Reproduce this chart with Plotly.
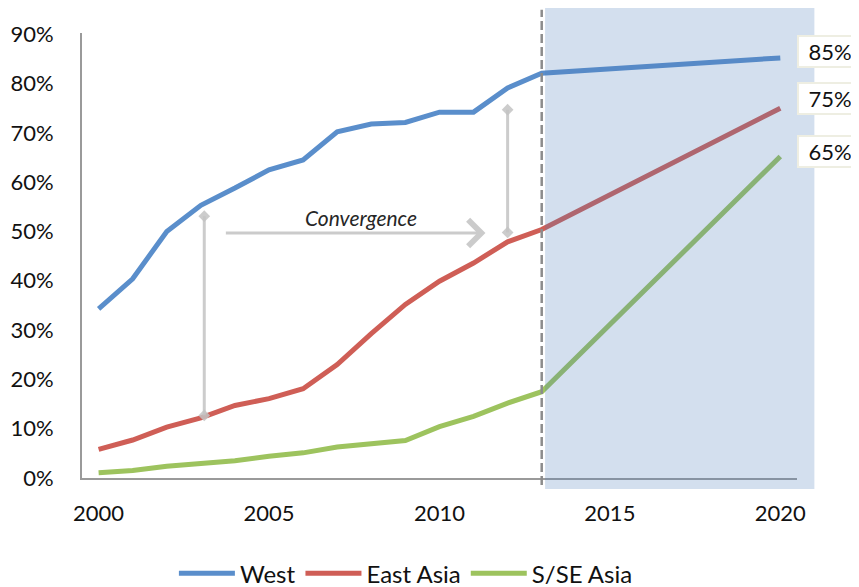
import plotly.graph_objects as go

years = [2000, 2001, 2002, 2003, 2004, 2005, 2006, 2007, 2008, 2009, 2010, 2011, 2012, 2013, 2020]
west = [34.3, 40.4, 50.0, 55.3, 58.8, 62.5, 64.5, 70.2, 71.8, 72.1, 74.2, 74.2, 79.1, 82.1, 85.2]
east_asia = [5.8, 7.7, 10.3, 12.2, 14.7, 16.1, 18.1, 23.0, 29.3, 35.2, 39.9, 43.6, 47.9, 50.4, 75.0]
se_asia = [1.05, 1.5, 2.4, 2.9, 3.5, 4.4, 5.1, 6.3, 6.9, 7.6, 10.4, 12.5, 15.2, 17.5, 65.2]
series_names = ["West", "East Asia", "S/SE Asia"]
end_labels = ["85%", "75%", "65%"]
end_label_y = [86.4, 77.0, 66.3]
x_ticks = [2000, 2005, 2010, 2015, 2020]
y_ticks = [0, 10, 20, 30, 40, 50, 60, 70, 80, 90]
y_tick_text = ["0%", "10%", "20%", "30%", "40%", "50%", "60%", "70%", "80%", "90%"]
forecast_start = 2013
forecast_end = 2021

colors = ["#5A8ECB", "#CF5E56", "#9DC35E"]
FONT = "Lato"

x_range = [1999.513, 2020.49]
y_range = [0, 90.25]

fig = go.Figure()
for name, vals, col in zip(series_names, [west, east_asia, se_asia], colors):
    fig.add_trace(go.Scatter(x=years, y=vals, mode="lines", name=name,
                             line=dict(color=col, width=5)))

# convergence arrows (grey, diamond ended verticals)
arrow_col = "rgba(195,195,195,0.85)"
for xv, y0, y1 in [(2003.1, 12.7, 53.1), (2012.0, 49.8, 74.7)]:
    fig.add_trace(go.Scatter(x=[xv, xv], y=[y0, y1], mode="lines+markers",
                             line=dict(color=arrow_col, width=3),
                             marker=dict(symbol="diamond", size=9, color=arrow_col),
                             showlegend=False, hoverinfo="skip"))

fig.add_annotation(x=2011.35, y=49.7, ax=2003.69, ay=49.7, xref="x", yref="y",
                   axref="x", ayref="y", showarrow=True, arrowhead=4,
                   arrowsize=1.7, arrowwidth=3, arrowcolor=arrow_col, text="")
fig.add_annotation(x=2007.7, y=52.9, xref="x", yref="y", text="<i>Convergence</i>",
                   showarrow=False, font=dict(family=FONT, size=21, color="#262626"))

# forecast shading overlay
span = x_range[1] - x_range[0]
fig.add_shape(type="rect", xref="x domain", yref="y domain",
              x0=(forecast_start + 0.1 - x_range[0]) / span,
              x1=(forecast_end - x_range[0]) / span,
              y0=-0.0245, y1=1.0636, layer="above",
              fillcolor="rgba(79,129,189,0.25)", line=dict(width=0))
fig.add_shape(type="line", xref="x domain", yref="y domain",
              x0=(forecast_start - x_range[0]) / span,
              x1=(forecast_start - x_range[0]) / span,
              y0=-0.016, y1=1.052, layer="above",
              line=dict(color="#8C8C8C", width=2.5, dash="9px,4px"))

for lab, yv in zip(end_labels, end_label_y):
    fig.add_annotation(x=1.0, y=yv, xref="paper", yref="y", xanchor="left",
                       yanchor="middle", text=lab, showarrow=False,
                       font=dict(family=FONT, size=22, color="#111111"),
                       bgcolor="white", bordercolor="#EEEEE2", borderwidth=2,
                       borderpad=4, width=54, height=21)

# page body has an 8px margin, so the figure is 8px smaller and offsets reduced
fig.update_layout(
    width=851, height=579,
    margin=dict(l=74, r=62, t=25, b=109, autoexpand=False),
    paper_bgcolor="white", plot_bgcolor="white",
    font=dict(family=FONT, size=22, color="#111111"),
    showlegend=True,
    legend=dict(orientation="h", x=0.453, xanchor="center", y=-0.215, yanchor="middle",
                font=dict(family=FONT, size=24, color="#111111"),
                itemwidth=56, bgcolor="rgba(0,0,0,0)"),
    xaxis=dict(range=x_range, tickvals=x_ticks, showgrid=False, zeroline=False,
               showline=True, linecolor="#9A9A9A", linewidth=2, ticks="",
               ticklabelstandoff=15, automargin=False, fixedrange=True),
    yaxis=dict(range=y_range, tickvals=y_ticks, ticktext=y_tick_text, showgrid=False,
               zeroline=False, showline=True, linecolor="#9A9A9A", linewidth=2,
               ticks="", ticklabelstandoff=22, automargin=False, fixedrange=True),
)

fig.write_html("out.html")
